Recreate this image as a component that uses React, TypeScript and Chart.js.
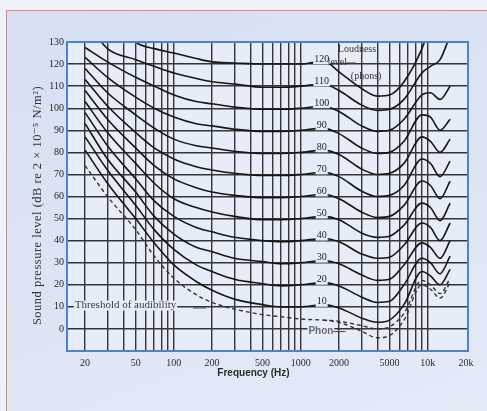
import React, { useEffect, useRef } from 'react';
import { Chart, registerables } from 'chart.js';

Chart.register(...registerables);

// ---------- data ----------
const FREQ = [20, 30, 50, 70, 100, 150, 200, 300, 500, 700, 1000, 1500, 2000, 3000, 4000, 5000, 6500, 9000, 10500, 12500, 15000];

const PHON_120 = [160, 145, 130, 127, 125, 122.5, 121, 120.5, 120, 120, 120, 121.5, 116.5, 109, 105.5, 106, 112, 127, 138, 150, 160];
const PHON_110 = [140, 127, 122, 119, 116, 113.5, 112, 111, 109.5, 109.5, 110, 111, 108, 101.5, 99, 99.5, 104, 116, 119, 122, 133];
const PHON_100 = [127.5, 121, 114, 110, 106, 103, 102, 100.5, 99.5, 99.5, 100, 101, 98.5, 92, 89.5, 90, 95, 106, 107, 104, 110];
const PHON_90 = [123, 114, 105, 100, 96, 93, 92, 90.5, 89.5, 89.5, 90, 91, 88.5, 82, 79.5, 80, 85, 97, 96, 90, 95];
const PHON_80 = [118, 107, 97, 91, 86, 83, 82, 80.5, 79.5, 79.5, 80, 81, 79, 72.5, 70, 70.5, 75, 87, 85, 80, 86];
const PHON_70 = [113, 101, 89, 82, 77, 73.5, 72, 70.5, 69.5, 69.5, 70, 71, 69, 62.5, 60, 60.5, 65, 77, 75, 69, 76];
const PHON_60 = [108, 95, 82, 74, 68, 64, 62, 60.5, 59.5, 59.5, 60, 61, 59, 53, 50.5, 51, 56, 67, 65, 59, 67];
const PHON_50 = [103, 89, 75, 66, 59, 55, 53, 51, 49.5, 49.5, 50, 51, 49.5, 43.5, 41.5, 42, 47, 57, 55, 49, 57];
const PHON_40 = [98, 83, 68, 58, 51, 46, 44, 41.5, 40, 39.5, 40, 41, 39.5, 34, 32, 32.5, 38, 48, 46, 40, 48];
const PHON_30 = [93, 77, 62, 51, 43, 37, 35, 32, 30.5, 29.5, 30, 31, 29.5, 24.5, 22, 22.5, 29, 39, 37, 32, 40];
const PHON_20 = [87, 72, 56, 45, 36, 29, 26, 22.5, 20.5, 19.5, 20, 21, 19.5, 14.5, 12, 12.5, 20, 32, 30, 25, 33];
const PHON_10 = [81, 66, 50, 39, 29, 21.5, 17.5, 13.5, 11, 10, 10, 11, 9.5, 5, 3, 4, 11, 26, 24, 20, 27];
const THRESHOLD = [74, 60, 45, 33, 23, 15.5, 12, 9, 6.5, 5.5, 4.5, 4, 3.5, 1.5, 0, 1, 7, 22, 20, 16, 23];
const LOWER_DASHED = [null, null, null, null, null, null, null, null, null, null, null, 4, 3, -1, -4, -3, 4, 20, 18, 14, 21];

const PHON_LEVELS = [120, 110, 100, 90, 80, 70, 60, 50, 40, 30, 20, 10];
const SOLID_CURVES = [PHON_120, PHON_110, PHON_100, PHON_90, PHON_80, PHON_70, PHON_60, PHON_50, PHON_40, PHON_30, PHON_20, PHON_10];

const X_GRID = [20, 30, 40, 50, 60, 70, 80, 90, 100, 200, 300, 400, 500, 600, 700, 800, 900, 1000, 2000, 3000, 4000, 5000, 6000, 7000, 8000, 9000, 10000, 20000];
const X_LABELS = [20, 50, 100, 200, 500, 1000, 2000, 5000, 10000, 20000];
const Y_TICKS = [0, 10, 20, 30, 40, 50, 60, 70, 80, 90, 100, 110, 120, 130];

// ---------- style ----------
const PLOT_BG = '#e6ecf8';
const GRID = '#353535';
const CURVE = '#161616';
const BLUE = '#4a82d4';
const SERIF = '"Liberation Serif", "DejaVu Serif", serif';
const SANS = '"Liberation Sans", Arial, sans-serif';

const fmtX = (v: number) => (v >= 10000 ? `${v / 1000}k` : `${v}`);

export default function App() {
  const ref = useRef<HTMLCanvasElement>(null);

  useEffect(() => {
    const canvas = ref.current!;
    const toPts = (arr: (number | null)[]) =>
      FREQ.map((f, i) => ({ x: f, y: arr[i] })).filter((p) => p.y !== null);

    const datasets: any[] = SOLID_CURVES.map((c, i) => ({
      label: `${PHON_LEVELS[i]} phon`,
      data: toPts(c),
      borderColor: CURVE,
      borderWidth: 1.6,
      pointRadius: 0,
      fill: false,
      cubicInterpolationMode: 'monotone',
    }));
    datasets.push({
      label: 'Threshold of audibility',
      data: toPts(THRESHOLD),
      borderColor: '#333',
      borderWidth: 1.4,
      borderDash: [4, 3],
      pointRadius: 0,
      fill: false,
      cubicInterpolationMode: 'monotone',
    });
    datasets.push({
      label: 'Phon',
      data: toPts(LOWER_DASHED),
      borderColor: '#333',
      borderWidth: 1.4,
      borderDash: [4, 3],
      pointRadius: 0,
      fill: false,
      cubicInterpolationMode: 'monotone',
    });

    const decor = {
      id: 'decor',
      beforeDraw(chart: any) {
        const { ctx, chartArea: a } = chart;
        ctx.save();
        ctx.fillStyle = PLOT_BG;
        ctx.fillRect(a.left, a.top, a.right - a.left, a.bottom - a.top);
        ctx.restore();
      },
      afterDraw(chart: any) {
        const { ctx, chartArea: a, scales } = chart;
        const xs = scales.x;
        const ys = scales.y;
        const text = (
          t: string,
          fx: number,
          fy: number,
          font: string,
          color: string,
          align: CanvasTextAlign = 'center',
          knock = true,
        ) => {
          const px = xs.getPixelForValue(fx);
          const py = ys.getPixelForValue(fy);
          ctx.save();
          ctx.font = font;
          ctx.textAlign = align;
          ctx.textBaseline = 'middle';
          if (knock) {
            const w = ctx.measureText(t).width;
            const left = align === 'center' ? px - w / 2 : align === 'left' ? px : px - w;
            ctx.fillStyle = PLOT_BG;
            ctx.fillRect(left - 1, py - 5, w + 2, 10);
          }
          ctx.fillStyle = color;
          ctx.fillText(t, px, py);
          ctx.restore();
        };
        const line = (f1: number, d1: number, f2: number, d2: number) => {
          ctx.save();
          ctx.strokeStyle = '#444';
          ctx.lineWidth = 1;
          ctx.beginPath();
          ctx.moveTo(xs.getPixelForValue(f1), ys.getPixelForValue(d1));
          ctx.lineTo(xs.getPixelForValue(f2), ys.getPixelForValue(d2));
          ctx.stroke();
          ctx.restore();
        };

        // phon labels
        PHON_LEVELS.forEach((p) => text(String(p), 1460, p + 2.3, `10px ${SERIF}`, '#222'));
        text('Loudness', 2770, 126.7, `10px ${SERIF}`, '#333', 'center', false);
        text('level', 1940, 120.8, `10px ${SERIF}`, '#333', 'center', false);
        line(2250, 120.5, 2700, 120.5);
        text('(phons)', 3270, 114.5, `10px ${SERIF}`, '#333', 'center', false);

        // threshold annotation
        text('Threshold of audibility', 16.6, 10.6, `11px ${SERIF}`, '#3a3a3a', 'left', true);
        line(142, 9.5, 180, 9.5);

        // Phon annotation
        text('Phon', 1440, -0.9, `bold 10px ${SANS}`, '#6a6a6a', 'center', true);
        line(1800, -1.2, 2250, -1.2);

        // plot border
        ctx.save();
        ctx.strokeStyle = BLUE;
        ctx.lineWidth = 2;
        ctx.strokeRect(a.left, a.top, a.right - a.left, a.bottom - a.top);
        ctx.restore();

        // axis titles
        ctx.save();
        ctx.fillStyle = '#2a2a2a';
        ctx.font = `bold 10px ${SANS}`;
        ctx.textAlign = 'center';
        ctx.textBaseline = 'middle';
        ctx.fillText('Frequency (Hz)', a.left + (a.right - a.left) * 0.465, a.bottom + 22);
        ctx.translate(a.left - 29, (a.top + a.bottom) / 2 + 9);
        ctx.rotate(-Math.PI / 2);
        ctx.font = `12.5px ${SERIF}`;
        try {
          (ctx as any).letterSpacing = '0.5px';
        } catch (e) {
          /* ignore */
        }
        ctx.fillStyle = '#333';
        ctx.fillText('Sound pressure level (dB re 2 \u00d7 10\u207b\u2075 N/m\u00b2)', 0, 0);
        ctx.restore();
      },
    };

    const chart = new Chart(canvas, {
      type: 'line',
      data: { datasets },
      options: {
        responsive: false,
        devicePixelRatio: 1,
        animation: false,
        events: [],
        layout: { padding: { left: 0, top: 42, right: 19, bottom: 0 } },
        plugins: { legend: { display: false }, tooltip: { enabled: false } },
        scales: {
          x: {
            type: 'logarithmic',
            min: 14.4,
            max: 20750,
            afterBuildTicks: (scale: any) => {
              scale.ticks = X_GRID.map((v) => ({ value: v }));
            },
            afterFit: (scale: any) => {
              scale.height = 60;
            },
            ticks: {
              autoSkip: false,
              maxRotation: 0,
              padding: 6,
              color: '#2a2a2a',
              font: { family: SERIF, size: 10 },
              callback: (v: any) => (X_LABELS.includes(Number(v)) ? fmtX(Number(v)) : ''),
            },
            grid: {
              drawTicks: false,
              lineWidth: 1.4,
              color: (c: any) => (c.tick && c.tick.value === 20000 ? 'rgba(0,0,0,0)' : GRID),
            },
            border: { display: false },
          },
          y: {
            type: 'linear',
            min: -10,
            max: 130,
            afterBuildTicks: (scale: any) => {
              scale.ticks = Y_TICKS.map((v) => ({ value: v }));
            },
            afterFit: (scale: any) => {
              scale.width = 67;
            },
            ticks: {
              padding: 3,
              color: '#222',
              font: { family: SERIF, size: 10 },
            },
            grid: { drawTicks: false, lineWidth: 1.4, color: GRID },
            border: { display: false },
          },
        },
      },
      plugins: [decor],
    } as any);

    return () => chart.destroy();
  }, []);

  return (
    <div
      style={{
        position: 'fixed',
        left: 0,
        top: 0,
        width: 487,
        height: 411,
        overflow: 'hidden',
        background: '#eef2f9',
      }}
    >
      <div
        style={{
          position: 'absolute',
          left: 6,
          top: 10,
          right: -4,
          bottom: -4,
          borderLeft: '1.5px solid #e0897a',
          borderTop: '1.5px solid #e0897a',
          background: 'linear-gradient(160deg, #d7e0f3 0%, #dde5f5 55%, #e5eaf7 100%)',
        }}
      />
      <canvas
        ref={ref}
        width={487}
        height={411}
        style={{ position: 'absolute', left: 0, top: 0, width: 487, height: 411 }}
      />
    </div>
  );
}
